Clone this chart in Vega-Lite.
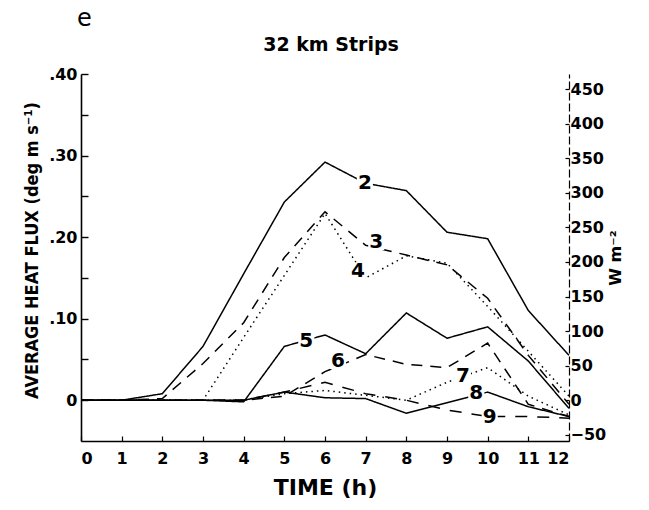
{
  "$schema": "https://vega.github.io/schema/vega-lite/v6.json",
  "autosize": {"type": "none"},
  "width": 488,
  "height": 367,
  "padding": {"left": 81, "top": 74, "right": 80, "bottom": 69},
  "background": "white",
  "config": {"view": {"stroke": null}, "font": "DejaVu Sans"},
  "title": {"text": "32 km Strips", "frame": "group", "anchor": "middle", "offset": -48, "dx": 6, "fontSize": 19, "fontWeight": "bold", "font": "DejaVu Sans", "color": "black"},
  "datasets": {
    "lines": [
      {"series": "2", "hour": 0, "flux": 0}, {"series": "2", "hour": 1, "flux": 0}, {"series": "2", "hour": 2, "flux": 0.008}, {"series": "2", "hour": 3, "flux": 0.066}, {"series": "2", "hour": 4, "flux": 0.155}, {"series": "2", "hour": 5, "flux": 0.243}, {"series": "2", "hour": 6, "flux": 0.292}, {"series": "2", "hour": 7, "flux": 0.266}, {"series": "2", "hour": 8, "flux": 0.257}, {"series": "2", "hour": 9, "flux": 0.206}, {"series": "2", "hour": 10, "flux": 0.198}, {"series": "2", "hour": 11, "flux": 0.11}, {"series": "2", "hour": 12, "flux": 0.055},
      {"series": "3", "hour": 0, "flux": 0}, {"series": "3", "hour": 1, "flux": 0}, {"series": "3", "hour": 2, "flux": 0.002}, {"series": "3", "hour": 3, "flux": 0.045}, {"series": "3", "hour": 4, "flux": 0.095}, {"series": "3", "hour": 5, "flux": 0.175}, {"series": "3", "hour": 6, "flux": 0.231}, {"series": "3", "hour": 7, "flux": 0.19}, {"series": "3", "hour": 8, "flux": 0.178}, {"series": "3", "hour": 9, "flux": 0.166}, {"series": "3", "hour": 10, "flux": 0.125}, {"series": "3", "hour": 11, "flux": 0.055}, {"series": "3", "hour": 12, "flux": -0.005},
      {"series": "4", "hour": 0, "flux": 0}, {"series": "4", "hour": 1, "flux": 0}, {"series": "4", "hour": 2, "flux": 0}, {"series": "4", "hour": 3, "flux": 0}, {"series": "4", "hour": 4, "flux": 0.077}, {"series": "4", "hour": 5, "flux": 0.153}, {"series": "4", "hour": 6, "flux": 0.229}, {"series": "4", "hour": 7, "flux": 0.15}, {"series": "4", "hour": 8, "flux": 0.177}, {"series": "4", "hour": 9, "flux": 0.168}, {"series": "4", "hour": 10, "flux": 0.115}, {"series": "4", "hour": 11, "flux": 0.06}, {"series": "4", "hour": 12, "flux": 0.005},
      {"series": "5", "hour": 0, "flux": 0}, {"series": "5", "hour": 1, "flux": 0}, {"series": "5", "hour": 2, "flux": 0}, {"series": "5", "hour": 3, "flux": 0}, {"series": "5", "hour": 4, "flux": -0.002}, {"series": "5", "hour": 5, "flux": 0.066}, {"series": "5", "hour": 6, "flux": 0.08}, {"series": "5", "hour": 7, "flux": 0.057}, {"series": "5", "hour": 8, "flux": 0.107}, {"series": "5", "hour": 9, "flux": 0.076}, {"series": "5", "hour": 10, "flux": 0.09}, {"series": "5", "hour": 11, "flux": 0.048}, {"series": "5", "hour": 12, "flux": -0.01},
      {"series": "6", "hour": 0, "flux": 0}, {"series": "6", "hour": 1, "flux": 0}, {"series": "6", "hour": 2, "flux": 0}, {"series": "6", "hour": 3, "flux": 0}, {"series": "6", "hour": 4, "flux": 0}, {"series": "6", "hour": 5, "flux": 0.005}, {"series": "6", "hour": 6, "flux": 0.035}, {"series": "6", "hour": 7, "flux": 0.056}, {"series": "6", "hour": 8, "flux": 0.044}, {"series": "6", "hour": 9, "flux": 0.04}, {"series": "6", "hour": 10, "flux": 0.07}, {"series": "6", "hour": 11, "flux": -0.005}, {"series": "6", "hour": 12, "flux": -0.02},
      {"series": "7", "hour": 0, "flux": 0}, {"series": "7", "hour": 1, "flux": 0}, {"series": "7", "hour": 2, "flux": 0}, {"series": "7", "hour": 3, "flux": 0}, {"series": "7", "hour": 4, "flux": 0}, {"series": "7", "hour": 5, "flux": 0.008}, {"series": "7", "hour": 6, "flux": 0.012}, {"series": "7", "hour": 7, "flux": 0.006}, {"series": "7", "hour": 8, "flux": 0.0}, {"series": "7", "hour": 9, "flux": 0.022}, {"series": "7", "hour": 10, "flux": 0.04}, {"series": "7", "hour": 11, "flux": 0.005}, {"series": "7", "hour": 12, "flux": -0.018},
      {"series": "8", "hour": 0, "flux": 0}, {"series": "8", "hour": 1, "flux": 0}, {"series": "8", "hour": 2, "flux": 0}, {"series": "8", "hour": 3, "flux": 0}, {"series": "8", "hour": 4, "flux": 0}, {"series": "8", "hour": 5, "flux": 0.01}, {"series": "8", "hour": 6, "flux": 0.003}, {"series": "8", "hour": 7, "flux": 0.002}, {"series": "8", "hour": 8, "flux": -0.016}, {"series": "8", "hour": 9, "flux": -0.003}, {"series": "8", "hour": 10, "flux": 0.01}, {"series": "8", "hour": 11, "flux": -0.008}, {"series": "8", "hour": 12, "flux": -0.02},
      {"series": "9", "hour": 0, "flux": 0}, {"series": "9", "hour": 1, "flux": 0}, {"series": "9", "hour": 2, "flux": 0}, {"series": "9", "hour": 3, "flux": 0}, {"series": "9", "hour": 4, "flux": 0}, {"series": "9", "hour": 5, "flux": 0.01}, {"series": "9", "hour": 6, "flux": 0.022}, {"series": "9", "hour": 7, "flux": 0.008}, {"series": "9", "hour": 8, "flux": 0.0}, {"series": "9", "hour": 9, "flux": -0.012}, {"series": "9", "hour": 10, "flux": -0.02}, {"series": "9", "hour": 11, "flux": -0.02}, {"series": "9", "hour": 12, "flux": -0.022}
    ],
    "labels": [
      {"label": "2", "hour": 6.98, "flux": 0.266},
      {"label": "3", "hour": 7.26, "flux": 0.194},
      {"label": "4", "hour": 6.81, "flux": 0.159},
      {"label": "5", "hour": 5.54, "flux": 0.073},
      {"label": "6", "hour": 6.32, "flux": 0.048},
      {"label": "7", "hour": 9.39, "flux": 0.03},
      {"label": "8", "hour": 9.72, "flux": 0.009},
      {"label": "9", "hour": 10.05, "flux": -0.02}
    ],
    "panel": [
      {"label": "e", "hour": 0.08, "flux": 0.467}
    ]
  },
  "layer": [
    {
      "data": {"name": "lines"},
      "mark": {"type": "line", "color": "black", "strokeWidth": 1.5},
      "encoding": {
        "x": {"field": "hour", "type": "quantitative",
          "scale": {"domain": [0, 12], "nice": false, "zero": false},
          "axis": {"title": "TIME (h)", "values": [0,1,2,3,4,5,6,7,8,9,10,11,12], "format": "d",
            "grid": false, "domainColor": "black", "domainWidth": 1.6, "tickColor": "black", "tickWidth": 1.2, "tickSize": -5,
            "labelPadding": 14, "labelFont": "DejaVu Sans", "labelFontWeight": "bold", "labelFontSize": 16, "labelColor": "black",
            "titleFont": "DejaVu Sans", "titleFontWeight": "bold", "titleFontSize": 22, "titleColor": "black", "titlePadding": 11}},
        "y": {"field": "flux", "type": "quantitative",
          "scale": {"domain": [-0.05, 0.4], "nice": false, "zero": false},
          "axis": {"title": "AVERAGE HEAT FLUX (deg m s⁻¹)", "orient": "left",
            "values": [0, 0.05, 0.1, 0.15, 0.2, 0.25, 0.3, 0.35, 0.4],
            "labelExpr": "datum.value == 0 ? '0' : (round(datum.value * 100) % 10 == 0 ? replace(format(datum.value, '.2f'), '0.', '.') : '')",
            "grid": false, "domainColor": "black", "domainWidth": 1.6, "tickColor": "black", "tickWidth": 1.4, "tickSize": -7,
            "labelPadding": 11, "labelFont": "DejaVu Sans", "labelFontWeight": "bold", "labelFontSize": 16, "labelColor": "black",
            "titleFont": "DejaVu Sans Condensed", "titleFontWeight": "bold", "titleFontSize": 18, "titleColor": "black", "titlePadding": 7,
            "titleY": 176}},
        "strokeDash": {"field": "series", "type": "nominal",
          "scale": {"domain": ["2","3","4","5","6","7","8","9"],
            "range": [[1,0],[11,8],[1.5,4],[1,0],[11,8],[1.5,4],[1,0],[12,10]]},
          "legend": null},
        "detail": {"field": "series"}
      }
    },
    {
      "data": {"name": "labels"},
      "mark": {"type": "point", "shape": "square", "filled": true, "color": "white", "opacity": 1, "size": 260},
      "encoding": {
        "x": {"field": "hour", "type": "quantitative", "scale": {"domain": [0, 12], "nice": false, "zero": false}},
        "y": {"field": "flux", "type": "quantitative", "scale": {"domain": [-0.05, 0.4], "nice": false, "zero": false}, "axis": null}
      }
    },
    {
      "data": {"name": "labels"},
      "mark": {"type": "text", "font": "DejaVu Sans", "fontWeight": "bold", "fontSize": 20, "color": "black", "align": "center", "baseline": "middle"},
      "encoding": {
        "x": {"field": "hour", "type": "quantitative", "scale": {"domain": [0, 12], "nice": false, "zero": false}},
        "y": {"field": "flux", "type": "quantitative", "scale": {"domain": [-0.05, 0.4], "nice": false, "zero": false}, "axis": null},
        "text": {"field": "label"}
      }
    },
    {
      "data": {"name": "panel"},
      "mark": {"type": "text", "font": "DejaVu Sans", "fontSize": 24, "color": "black", "align": "center", "baseline": "middle"},
      "encoding": {
        "x": {"field": "hour", "type": "quantitative", "scale": {"domain": [0, 12], "nice": false, "zero": false}},
        "y": {"field": "flux", "type": "quantitative", "scale": {"domain": [-0.05, 0.4], "nice": false, "zero": false}, "axis": null},
        "text": {"field": "label"}
      }
    },
    {
      "data": {"name": "lines"},
      "mark": {"type": "line", "opacity": 0},
      "encoding": {
        "x": {"field": "hour", "type": "quantitative", "scale": {"domain": [0, 12], "nice": false, "zero": false}},
        "y": {"field": "flux", "type": "quantitative",
          "scale": {"domain": [-0.05, 0.4], "nice": false, "zero": false},
          "axis": {"title": "W m⁻²", "orient": "right",
            "values": [-0.042373, 0, 0.042373, 0.084746, 0.127119, 0.169492, 0.211864, 0.254237, 0.29661, 0.338983, 0.381356],
            "labelExpr": "format(round(datum.value * 1180), 'd')",
            "grid": false, "domainColor": "black", "domainWidth": 1.2, "domainDash": [8, 3], "tickColor": "black", "tickWidth": 1.2, "tickSize": -4,
            "labelPadding": 5, "labelFont": "DejaVu Sans", "labelFontWeight": "bold", "labelFontSize": 16, "labelColor": "black",
            "titleFont": "DejaVu Sans", "titleFontWeight": "bold", "titleFontSize": 16, "titleColor": "black", "titleAngle": -90, "titlePadding": 18}},
        "detail": {"field": "series"}
      }
    }
  ],
  "resolve": {"scale": {"y": "independent"}}
}
